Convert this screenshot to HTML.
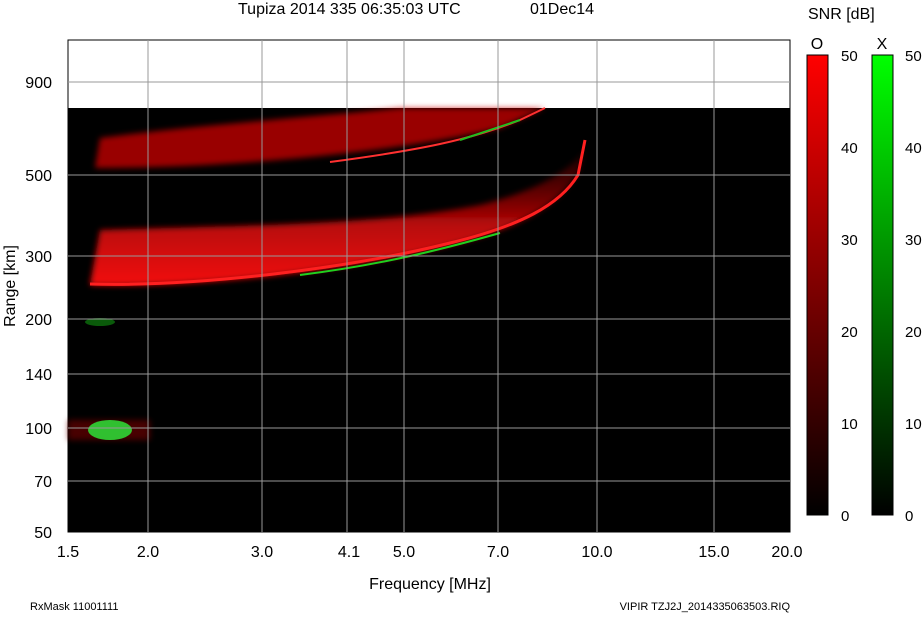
<!DOCTYPE html>
<html><head><style>
body{margin:0;background:#fff;width:922px;height:614px;overflow:hidden;font-family:"Liberation Sans",sans-serif}
</style></head><body>
<svg width="922" height="614" xmlns="http://www.w3.org/2000/svg" font-family="Liberation Sans, sans-serif">
<defs>
<linearGradient id="gr" x1="0" y1="1" x2="0" y2="0"><stop offset="0" stop-color="#000"/><stop offset="1" stop-color="#ff0000"/></linearGradient>
<linearGradient id="gg" x1="0" y1="1" x2="0" y2="0"><stop offset="0" stop-color="#000"/><stop offset="1" stop-color="#00ff00"/></linearGradient>
<linearGradient id="band" x1="0" y1="1" x2="0" y2="0"><stop offset="0" stop-color="#ff1010"/><stop offset="0.45" stop-color="#c00808"/><stop offset="1" stop-color="#500" stop-opacity="0.3"/></linearGradient>
<filter id="bl"><feGaussianBlur stdDeviation="3"/></filter>
</defs>
<text x="238" y="14" font-size="16">Tupiza 2014 335 06:35:03 UTC</text>
<text x="530" y="14" font-size="16">01Dec14</text>
<rect x="68" y="40" width="722" height="492" fill="#fff" stroke="#000"/>
<rect x="68" y="108" width="722" height="424" fill="#000"/>
<g filter="url(#bl)">
<path d="M90,285 C200,288 350,270 450,245 C520,228 560,205 580,170 L585,150 C570,170 540,190 480,205 C380,225 250,225 100,230 Z" fill="url(#band)" opacity="0.95"/>
<path d="M95,168 C250,168 420,148 500,128 L545,108 L400,108 C300,118 200,125 100,138 Z" fill="#c00" opacity="0.75"/>
<path d="M68,420 L150,420 L150,440 L68,440 Z" fill="#600" opacity="0.7"/>
</g>
<path d="M90,284 C200,287 350,268 450,243 C520,226 560,205 578,175 L585,140" stroke="#ff2020" stroke-width="3" fill="none"/>
<path d="M300,275 C380,265 440,250 500,233" stroke="#20d020" stroke-width="2" fill="none"/>
<path d="M330,162 C420,150 470,140 520,120 L545,108" stroke="#ff3030" stroke-width="2" fill="none"/>
<path d="M460,140 L520,120" stroke="#20c020" stroke-width="2" fill="none"/>
<ellipse cx="110" cy="430" rx="22" ry="10" fill="#30c030"/>
<ellipse cx="100" cy="322" rx="15" ry="4" fill="#0a5a0a"/>
<g stroke="#999" stroke-width="1">
<line x1="148" y1="40" x2="148" y2="532"/><line x1="262" y1="40" x2="262" y2="532"/>
<line x1="347" y1="40" x2="347" y2="532"/><line x1="404" y1="40" x2="404" y2="532"/>
<line x1="498" y1="40" x2="498" y2="532"/><line x1="597" y1="40" x2="597" y2="532"/>
<line x1="714" y1="40" x2="714" y2="532"/>
<line x1="68" y1="82" x2="790" y2="82"/><line x1="68" y1="175" x2="790" y2="175"/>
<line x1="68" y1="256" x2="790" y2="256"/><line x1="68" y1="319" x2="790" y2="319"/>
<line x1="68" y1="374" x2="790" y2="374"/><line x1="68" y1="428" x2="790" y2="428"/>
<line x1="68" y1="481" x2="790" y2="481"/>
</g>
<g font-size="16" text-anchor="end">
<text x="52" y="88">900</text><text x="52" y="181">500</text><text x="52" y="262">300</text>
<text x="52" y="325">200</text><text x="52" y="380">140</text><text x="52" y="434">100</text>
<text x="52" y="487">70</text><text x="52" y="538">50</text>
</g>
<g font-size="16" text-anchor="middle">
<text x="68" y="557">1.5</text><text x="148" y="557">2.0</text><text x="262" y="557">3.0</text>
<text x="349" y="557">4.1</text><text x="404" y="557">5.0</text><text x="498" y="557">7.0</text>
<text x="597" y="557">10.0</text><text x="714" y="557">15.0</text><text x="787" y="557">20.0</text>
</g>
<text x="430" y="589" font-size="16" text-anchor="middle">Frequency [MHz]</text>
<text transform="translate(15,286) rotate(-90)" font-size="16" text-anchor="middle">Range [km]</text>
<text x="30" y="610" font-size="11">RxMask 11001111</text>
<text x="790" y="610" font-size="11" text-anchor="end">VIPIR  TZJ2J_2014335063503.RIQ</text>
<text x="808" y="19" font-size="16">SNR [dB]</text>
<text x="817" y="49" font-size="16" text-anchor="middle">O</text>
<text x="882" y="49" font-size="16" text-anchor="middle">X</text>
<rect x="807" y="55" width="21" height="460" fill="url(#gr)" stroke="#000"/>
<rect x="872" y="55" width="21" height="460" fill="url(#gg)" stroke="#000"/>
<g font-size="15">
<text x="841" y="61">50</text><text x="841" y="153">40</text><text x="841" y="245">30</text><text x="841" y="337">20</text><text x="841" y="429">10</text><text x="841" y="521">0</text>
<text x="905" y="61">50</text><text x="905" y="153">40</text><text x="905" y="245">30</text><text x="905" y="337">20</text><text x="905" y="429">10</text><text x="905" y="521">0</text>
</g>
</svg>
</body></html>
